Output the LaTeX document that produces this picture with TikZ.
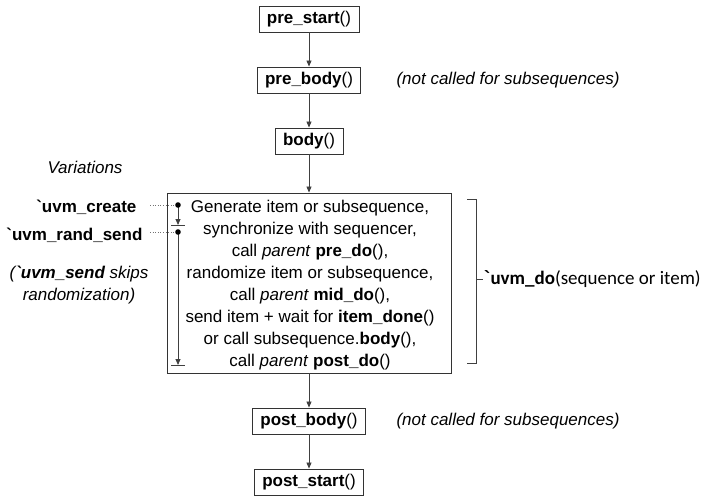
\documentclass[tikz,border=0pt]{standalone}
\usepackage{fontspec}
\setmainfont{Liberation Sans}
\newfontfamily\plainsans{Liberation Sans}
\newfontfamily\calib{Carlito}
\usetikzlibrary{arrows.meta}
% plain grave accent, taken from a family without the TeX quote mapping
\newcommand{\gravetick}{{\plainsans\char96}}
\tikzset{
  x=1pt, y=-1pt,
  base/.style={font=\fontsize{17}{22}\selectfont},
  fbox/.style={base, draw=black!80, line width=0.9pt, inner xsep=8pt,
               minimum height=26pt, text height=12.5pt, text depth=4pt},
  arr/.style={draw=black!75, line width=0.8pt,
              -{Triangle[length=6pt,width=5pt]}},
  plain/.style={draw=black!75, line width=0.8pt},
  note/.style={base, font=\fontsize{17}{22}\selectfont\itshape},
  dotline/.style={draw=black!55, line width=0.6pt, dotted},
}
\begin{document}
\begin{tikzpicture}
\useasboundingbox (0,0) rectangle (711,498);

% call sequence boxes
\node[fbox] (ps)  at (309,19)  {\textbf{pre\_start}()};
\node[fbox] (pb)  at (309,80)  {\textbf{pre\_body}()};
\node[fbox] (bd)  at (309,141) {\textbf{body}()};
\node[draw=black!80, line width=0.9pt, minimum width=284pt,
      minimum height=180pt] (big) at (309,283) {};
\node[base, align=center] (steps) at (310,285) {%
  Generate item or subsequence,\\
  synchronize with sequencer,\\
  call \textit{parent} \textbf{pre\_do}(),\\
  randomize item or subsequence,\\
  call \textit{parent} \textbf{mid\_do}(),\\
  send item + wait for \textbf{item\_done}()\\
  or call subsequence.\textbf{body}(),\\
  call \textit{parent} \textbf{post\_do}()};
\node[fbox] (pob) at (309,421) {\textbf{post\_body}()};
\node[fbox] (pos) at (309,482) {\textbf{post\_start}()};

\draw[arr] (ps) -- (pb);
\draw[arr] (pb) -- (bd);
\draw[arr] (bd) -- (big);
\draw[arr] (big) -- (pob);
\draw[arr] (pob) -- (pos);

% side notes
\node[note, anchor=west] (n1) at (393,80)  {(not called for subsequences)};
\node[note, anchor=west] (n2) at (393,421) {(not called for subsequences)};

% variations on the left
\node[note] (var) at (85,167) {Variations};
\node[base, anchor=east, font=\fontsize{17}{22}\selectfont\bfseries] (cr) at (140,207) {\gravetick uvm\_create};
\node[base, anchor=east, font=\fontsize{17}{22}\selectfont\bfseries] (rs) at (146,235) {\gravetick uvm\_rand\_send};
\node[note, align=center] (sk) at (79,285) {(\textbf{\gravetick uvm\_send} skips\\randomization)};

% markers inside the box
\coordinate (d1) at (178,205);
\coordinate (b1) at (178,225);
\coordinate (d2) at (178,232);
\coordinate (b2) at (178,365);
\coordinate (c1) at (150,205);
\coordinate (c2) at (150,232);
\draw[dotline] (c1) -- (d1);
\draw[dotline] (c2) -- (d2);
\draw[arr] (d1) -- (b1);
\draw[arr] (d2) -- (b2);
\draw[plain] ([xshift=-7pt]b1) -- ([xshift=7pt]b1);
\draw[plain] ([xshift=-7pt]b2) -- ([xshift=7pt]b2);
\fill (d1) circle (2.8pt);
\fill (d2) circle (2.8pt);

% bracket for `uvm_do
\coordinate (bt) at (467,199);
\coordinate (bb) at (467,363);
\coordinate (bm) at (476,279);
\draw[plain] (bt) -- (476,199) -- (476,363) -- (bb);
\draw[plain] (bm) -- ++(7,0) coordinate (bx);
\node[anchor=west, inner xsep=1pt, font=\calib\fontsize{19}{22}\selectfont] (ud) at (bx)
  {\textbf{\gravetick uvm\_do}(sequence or item)};
\end{tikzpicture}
\end{document}
